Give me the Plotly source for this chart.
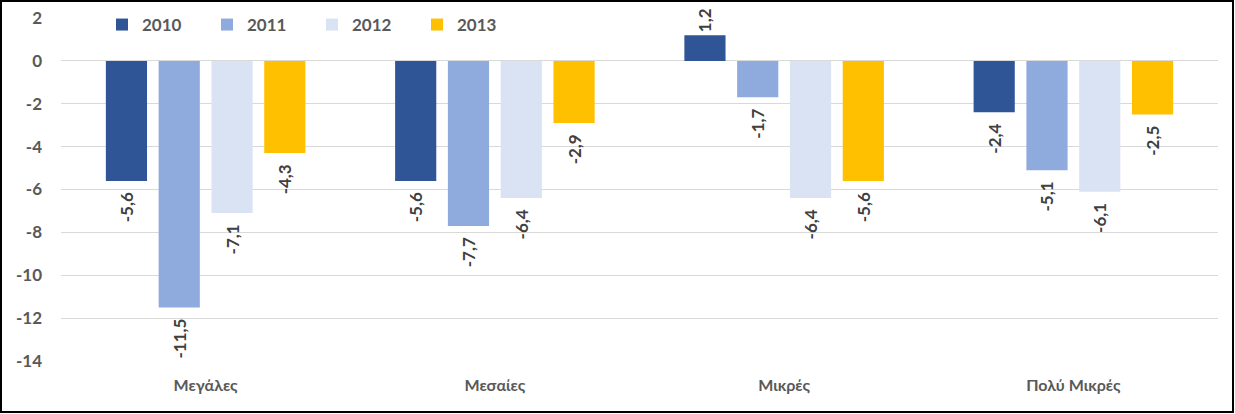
import plotly.graph_objects as go

categories = ['Μεγάλες', 'Μεσαίες', 'Μικρές', 'Πολύ Μικρές']
years = ['2010', '2011', '2012', '2013']
values_2010 = [-5.6, -5.6, 1.2, -2.4]
values_2011 = [-11.5, -7.7, -1.7, -5.1]
values_2012 = [-7.1, -6.4, -6.4, -6.1]
values_2013 = [-4.3, -2.9, -5.6, -2.5]
y_ticks = [2, 0, -2, -4, -6, -8, -10, -12, -14]
colours = ['#2f5597', '#8faadc', '#dae3f3', '#ffc000']

series = [values_2010, values_2011, values_2012, values_2013]
font_name = 'Lato'
text_col = '#595959'


def labelText(v):
	# greek style decimal comma; pad negatives so the label sits off the bar end
	s = f'{v:.1f}'.replace('.', ',')
	if v < 0:
		s = s + '\u00a0\u00a0'
	return s


fig = go.Figure()
for year, vals, col in zip(years, series, colours):
	fig.add_trace(go.Bar(
		x=categories,
		y=vals,
		name=year,
		marker=dict(color=col, line=dict(width=0)),
		text=[labelText(v) for v in vals],
		textposition='outside',
		textangle=-90,
		constraintext='none',
		cliponaxis=False,
		textfont=dict(family=font_name, size=17, color='#404040', weight='bold'),
	))

W, H = 1235, 414
ml, mr, mt, mb = 61, 17, 18, 53
pw = W - ml - mr
ph = H - mt - mb

fig.update_layout(
	width=W, height=H,
	margin=dict(l=ml, r=mr, t=mt, b=mb, autoexpand=False),
	paper_bgcolor='white',
	plot_bgcolor='white',
	barmode='group',
	bargap=0.27,
	bargroupgap=0.22,
	font=dict(family=font_name, color=text_col),
	showlegend=True,
	legend=dict(
		orientation='h',
		x=(102 - ml) / pw, y=1 - 7 / ph,
		xanchor='left', yanchor='middle',
		entrywidth=60,
		font=dict(family=font_name, size=17, color=text_col, weight='bold'),
		bgcolor='rgba(0,0,0,0)',
		itemwidth=30,
	),
	xaxis=dict(
		showgrid=False,
		showline=False,
		ticks='',
		ticklabelstandoff=13,
		tickfont=dict(family=font_name, size=16, color=text_col, weight='bold'),
	),
	yaxis=dict(
		range=[-14, 2],
		tickvals=y_ticks,
		ticktext=[str(t) for t in y_ticks],
		showgrid=True,
		gridcolor='#d9d9d9',
		gridwidth=1,
		zeroline=False,
		showline=False,
		ticks='',
		ticklabelstandoff=18,
		tickfont=dict(family=font_name, size=17, color=text_col, weight='bold'),
	),
	shapes=[dict(
		type='rect', xref='paper', yref='paper',
		x0=(1 - ml) / pw, x1=(W - 2 - ml) / pw,
		y0=-(mb - 2) / ph, y1=(ph + mt - 1) / ph,
		line=dict(color='black', width=2),
		layer='above',
	)],
)

# page body has a default 8px margin, drop it so the chart sits at the corner
fig.write_html('out.html', config={'displayModeBar': False},
			   post_script="document.body.style.margin='0';")
